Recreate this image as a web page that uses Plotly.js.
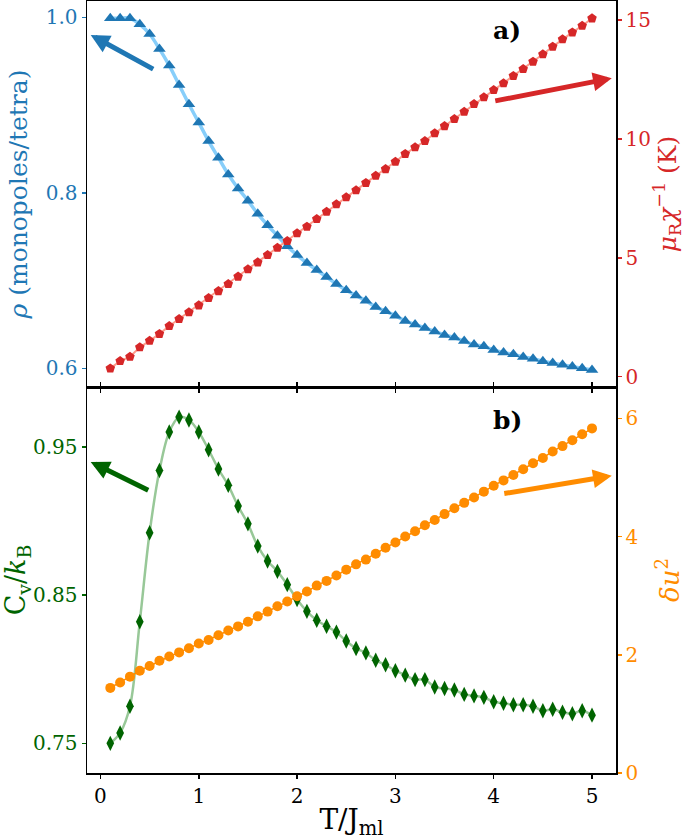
<!DOCTYPE html>
<html>
<head>
<meta charset="utf-8">
<script src="https://cdn.plot.ly/plotly-3.0.1.min.js"></script>
<style>html,body{margin:0;padding:0;background:#fff}</style>
</head>
<body>
<div id="chart" style="width:685px;height:840px"></div>
<script>
const T = [0.1,0.2,0.3,0.4,0.5,0.6,0.7,0.8,0.9,1.0,1.1,1.2,1.3,1.4,1.5,1.6,1.7,1.8,1.9,2.0,
           2.1,2.2,2.3,2.4,2.5,2.6,2.7,2.8,2.9,3.0,3.1,3.2,3.3,3.4,3.5,3.6,3.7,3.8,3.9,4.0,
           4.1,4.2,4.3,4.4,4.5,4.6,4.7,4.8,4.9,5.0];
const rho = [0.999,0.999,0.999,0.992,0.981,0.964,0.945,0.923,0.901,0.880,
             0.859,0.840,0.821,0.805,0.791,0.776,0.763,0.751,0.739,0.729,
             0.720,0.712,0.704,0.696,0.689,0.683,0.677,0.670,0.665,0.660,
             0.654,0.650,0.646,0.642,0.638,0.635,0.631,0.627,0.625,0.621,
             0.618,0.616,0.613,0.611,0.608,0.606,0.604,0.602,0.600,0.598];
const invChi = [0.35,0.66,0.84,1.24,1.51,1.80,2.13,2.43,2.71,3.00,
                3.31,3.60,3.90,4.21,4.52,4.81,5.12,5.42,5.71,6.03,
                6.31,6.63,6.94,7.25,7.55,7.84,8.15,8.45,8.73,9.04,
                9.37,9.65,9.91,10.24,10.54,10.84,11.14,11.47,11.75,12.06,
                12.34,12.65,12.94,13.25,13.56,13.88,14.19,14.48,14.76,15.07];
const Cv = [0.750,0.757,0.775,0.832,0.892,0.934,0.960,0.970,0.968,0.960,
            0.948,0.935,0.924,0.910,0.898,0.883,0.873,0.866,0.857,0.847,
            0.839,0.833,0.829,0.825,0.819,0.814,0.811,0.806,0.803,0.799,
            0.796,0.793,0.793,0.788,0.787,0.786,0.783,0.782,0.781,0.778,
            0.777,0.776,0.776,0.775,0.772,0.773,0.771,0.770,0.772,0.769];
const du2 = [1.44,1.53,1.63,1.73,1.81,1.90,1.97,2.04,2.11,2.19,
             2.25,2.33,2.41,2.48,2.56,2.65,2.73,2.82,2.90,2.99,
             3.07,3.17,3.25,3.34,3.44,3.53,3.61,3.71,3.81,3.90,
             4.00,4.09,4.19,4.28,4.38,4.48,4.57,4.66,4.76,4.86,
             4.95,5.04,5.14,5.24,5.33,5.44,5.53,5.63,5.73,5.83];
const xTicks = [0,1,2,3,4,5];
const rhoTicks = [0.6,0.8,1.0];
const rhoTickText = ['0.6','0.8','1.0'];
const chiTicks = [0,5,10,15];
const cvTicks = [0.75,0.85,0.95];
const cvTickText = ['0.75','0.85','0.95'];
const duTicks = [0,2,4,6];

const BLUE = '#1f77b4', LBLUE = '#87cefa';
const RED = '#d62728', LRED = '#ff9a8a';
const GREEN = '#006400', LGREEN = '#98c898';
const ORANGE = '#ff8c00';
const FONT = 'DejaVu Serif';
const TICKSZ = 20;

const traces = [
  {x:T, y:rho, xaxis:'x2', yaxis:'y', mode:'lines', line:{color:LBLUE, width:3.5, shape:'spline'}, hoverinfo:'skip'},
  {x:T, y:rho, xaxis:'x2', yaxis:'y', mode:'markers', marker:{symbol:'triangle-up', size:11, color:BLUE}},
  {x:T, y:invChi, xaxis:'x2', yaxis:'y2', mode:'lines+markers', line:{color:LRED, width:2},
   marker:{symbol:'pentagon', size:10, color:RED}},
  {x:T, y:Cv, xaxis:'x', yaxis:'y3', mode:'lines', line:{color:LGREEN, width:2.5, shape:'spline'}, hoverinfo:'skip'},
  {x:T, y:Cv, xaxis:'x', yaxis:'y3', mode:'markers', marker:{symbol:'diamond-tall', size:11, color:GREEN}},
  {x:T, y:du2, xaxis:'x', yaxis:'y4', mode:'lines+markers', line:{color:ORANGE, width:1.5},
   marker:{symbol:'circle', size:10, color:ORANGE}}
];

const axBase = {showgrid:false, zeroline:false, showline:true, linecolor:'black', linewidth:1.5,
                ticks:'outside', ticklen:4, tickwidth:1.5};
const xRange = [-0.137, 5.244];

const layout = {
  width:685, height:840,
  margin:{l:87, r:69, t:1, b:67},
  paper_bgcolor:'white', plot_bgcolor:'white',
  showlegend:false,
  font:{family:FONT, size:TICKSZ, color:'black'},
  xaxis: Object.assign({}, axBase, {domain:[0,1], anchor:'y3', range:xRange, tickvals:xTicks,
         tickcolor:'black', mirror:'ticks', tickfont:{size:TICKSZ, color:'black', family:FONT},
         title:{text:'T/J<sub>ml</sub>', font:{size:28, color:'black', family:FONT}}}),
  xaxis2: Object.assign({}, axBase, {domain:[0,1], anchor:'y', matches:'x', range:xRange, tickvals:xTicks,
         tickcolor:'black', showticklabels:false, mirror:true}),
  yaxis: Object.assign({}, axBase, {domain:[0.5,1], anchor:'x2', range:[0.5787,1.0186],
         tickvals:rhoTicks, ticktext:rhoTickText, tickcolor:BLUE,
         tickfont:{size:TICKSZ, color:BLUE, family:FONT},
         title:{text:'<i>ρ</i> (monopoles/tetra)', font:{size:25, color:BLUE, family:FONT}}}),
  yaxis2: Object.assign({}, axBase, {overlaying:'y', side:'right', anchor:'x2', range:[-0.433,15.80],
         tickvals:chiTicks, tickcolor:RED, tickfont:{size:TICKSZ, color:RED, family:FONT},
         title:{text:'<i>μ</i><sub>R</sub><i>χ</i><sup>−1</sup> (K)', font:{size:25, color:RED, family:FONT}}}),
  yaxis3: Object.assign({}, axBase, {domain:[0,0.5], anchor:'x', range:[0.7300,0.9903],
         tickvals:cvTicks, ticktext:cvTickText, tickcolor:GREEN,
         tickfont:{size:TICKSZ, color:GREEN, family:FONT},
         title:{text:'C<sub>v</sub>/<i>k</i><sub>B</sub>', font:{size:27, color:GREEN, family:FONT}}}),
  yaxis4: Object.assign({}, axBase, {overlaying:'y3', side:'right', anchor:'x', range:[0,6.53],
         tickvals:duTicks, tickcolor:ORANGE, tickfont:{size:TICKSZ, color:ORANGE, family:FONT},
         title:{text:'<i>δu</i><sup>2</sup>', font:{size:26, color:ORANGE, family:FONT}}}),
  annotations: [
    {xref:'paper', yref:'paper', x:0.794, y:0.962, text:'<b>a)</b>', showarrow:false,
     font:{size:25, color:'black', family:FONT}, xanchor:'center', yanchor:'middle'},
    {xref:'paper', yref:'paper', x:0.794, y:0.457, text:'<b>b)</b>', showarrow:false,
     font:{size:25, color:'black', family:FONT}, xanchor:'center', yanchor:'middle'},
    {xref:'paper', yref:'paper', x:0.007, y:0.956, ax:64, ay:35, text:'', showarrow:true,
     arrowhead:2, arrowsize:0.75, arrowwidth:5, arrowcolor:BLUE, standoff:0},
    {xref:'paper', yref:'paper', x:0.992, y:0.900, ax:-118, ay:23, text:'', showarrow:true,
     arrowhead:2, arrowsize:0.75, arrowwidth:5, arrowcolor:RED, standoff:0},
    {xref:'paper', yref:'paper', x:0.007, y:0.403, ax:59, ay:29, text:'', showarrow:true,
     arrowhead:2, arrowsize:0.75, arrowwidth:5, arrowcolor:GREEN, standoff:0},
    {xref:'paper', yref:'paper', x:0.992, y:0.385, ax:-109, ay:18, text:'', showarrow:true,
     arrowhead:2, arrowsize:0.75, arrowwidth:5, arrowcolor:ORANGE, standoff:0}
  ]
};

Plotly.newPlot('chart', traces, layout, {staticPlot:true, displayModeBar:false});
</script>
</body>
</html>
